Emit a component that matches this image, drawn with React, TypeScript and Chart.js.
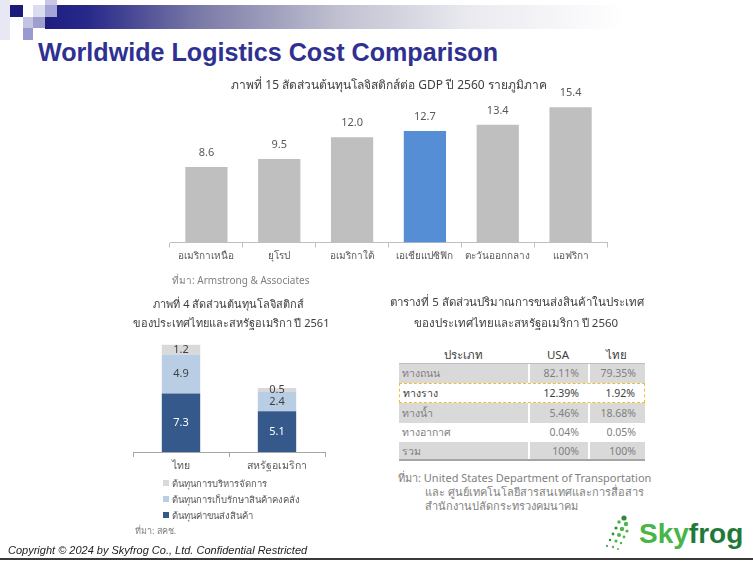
import React, { useEffect, useRef } from "react";
import { Chart, registerables } from "chart.js";

Chart.register(...registerables);

// ---------- Data ----------
const regionCategories = ["อเมริกาเหนือ", "ยุโรป", "อเมริกาใต้", "เอเชียแปซิฟิก", "ตะวันออกกลาง", "แอฟริกา"];
const regionValues = [8.6, 9.5, 12.0, 12.7, 13.4, 15.4];
const highlightedRegion = "เอเชียแปซิฟิก";

const countryCategories = ["ไทย", "สหรัฐอเมริกา"];
const transportCost = [7.3, 5.1];
const inventoryCost = [4.9, 2.4];
const adminCost = [1.2, 0.5];
const costSeriesNames = ["ต้นทุนค่าขนส่งสินค้า", "ต้นทุนการเก็บรักษาสินค้าคงคลัง", "ต้นทุนการบริหารจัดการ"];

const tableHeader = ["ประเภท", "USA", "ไทย"];
const modeRows = ["ทางถนน", "ทางราง", "ทางน้ำ", "ทางอากาศ", "รวม"];
const usaShares = ["82.11%", "12.39%", "5.46%", "0.04%", "100%"];
const thaiShares = ["79.35%", "1.92%", "18.68%", "0.05%", "100%"];
const highlightedMode = "ทางราง";

// ---------- Styles ----------
const FONT = '"Noto Sans", "DejaVu Sans", sans-serif';
const GRAY_BAR = "#bfbfbf";
const BLUE_BAR = "#558ed5";
const DARK_BLUE = "#34598a";
const LIGHT_BLUE = "#b9cde5";
const LIGHT_GRAY = "#d9d9d9";
const costColors = [DARK_BLUE, LIGHT_BLUE, LIGHT_GRAY];
const costLabelColors = ["#ffffff", "#404040", "#404040"];

const valueLabels = {
  id: "valueLabels",
  afterDatasetsDraw(chart: any, _args: any, opts: any) {
    const ctx = chart.ctx;
    chart.data.datasets.forEach((ds: any, di: number) => {
      const meta = chart.getDatasetMeta(di);
      meta.data.forEach((el: any, i: number) => {
        const v = ds.data[i];
        const p = el.getProps(["x", "y", "base"], true);
        ctx.save();
        ctx.font = `${opts.size || 11}px ${FONT}`;
        ctx.fillStyle = ds.labelColor || opts.color || "#595959";
        ctx.textAlign = "center";
        ctx.textBaseline = "middle";
        const y = opts.mode === "top" ? p.y - 14 : (p.y + p.base) / 2;
        ctx.fillText(Number(v).toFixed(1), p.x, y);
        ctx.restore();
      });
    });
  },
};

function RegionChart() {
  const ref = useRef<HTMLCanvasElement>(null);
  useEffect(() => {
    const chart = new Chart(ref.current!, {
      type: "bar",
      data: {
        labels: regionCategories,
        datasets: [
          {
            data: regionValues,
            backgroundColor: regionCategories.map((c) => (c === highlightedRegion ? BLUE_BAR : GRAY_BAR)),
            barPercentage: 0.58,
            categoryPercentage: 1,
          },
        ],
      },
      options: {
        responsive: false,
        animation: false,
        layout: { padding: { left: 20, right: 23, top: 22, bottom: 4.5 } },
        plugins: {
          legend: { display: false },
          tooltip: { enabled: false },
          valueLabels: { mode: "top", color: "#595959", size: 11 },
        } as any,
        scales: {
          y: { display: false, min: 0, max: 16 },
          x: {
            afterFit: (s: any) => {
              s.height = 25;
            },
            border: { display: true, color: "#bfbfbf" },
            grid: { drawOnChartArea: false, drawTicks: true, tickLength: 5, color: "#bfbfbf", offset: true },
            ticks: { color: "#595959", font: { size: 10, family: FONT }, padding: 3, maxRotation: 0, minRotation: 0, autoSkip: false },
          },
        },
      },
      plugins: [valueLabels],
    });
    return () => chart.destroy();
  }, []);
  return <canvas ref={ref} width={480} height={192} style={{ position: "absolute", left: 150, top: 80, width: 480, height: 192 }} />;
}

function CostChart() {
  const ref = useRef<HTMLCanvasElement>(null);
  useEffect(() => {
    const series = [transportCost, inventoryCost, adminCost];
    const chart = new Chart(ref.current!, {
      type: "bar",
      data: {
        labels: countryCategories,
        datasets: series.map((d, i) => ({
          label: costSeriesNames[i],
          data: d,
          backgroundColor: costColors[i],
          labelColor: costLabelColors[i],
          barPercentage: 0.4,
          categoryPercentage: 1,
        })) as any,
      },
      options: {
        responsive: false,
        animation: false,
        layout: { padding: { left: 20, right: 18, top: 10, bottom: 4 } },
        plugins: {
          legend: { display: false },
          tooltip: { enabled: false },
          valueLabels: { mode: "center", size: 11 },
        } as any,
        scales: {
          y: { display: false, min: 0, max: 14, stacked: true },
          x: {
            stacked: true,
            afterFit: (s: any) => {
              s.height = 24;
            },
            border: { display: true, color: "#a6a6a6" },
            grid: { drawOnChartArea: false, drawTicks: true, tickLength: 5, color: "#a6a6a6", offset: true },
            ticks: { color: "#595959", font: { size: 10.5, family: FONT }, padding: 3, maxRotation: 0, minRotation: 0, autoSkip: false },
          },
        },
      },
      plugins: [valueLabels],
    });
    return () => chart.destroy();
  }, []);
  return <canvas ref={ref} width={230} height={150} style={{ position: "absolute", left: 113, top: 330, width: 230, height: 150 }} />;
}

const abs = (l: number, t: number, extra: React.CSSProperties = {}): React.CSSProperties => ({
  position: "absolute",
  left: l,
  top: t,
  ...extra,
});

function Header() {
  return (
    <>
      <div style={abs(45, 5, { width: 708, height: 24, background: "linear-gradient(to right, #1e1e80 0%, #28288a 6%, #7b7ba8 22%, #bfbfd0 41%, #eaeaf0 60%, #ffffff 82%)" })} />
      <div style={abs(0, 0, { width: 10, height: 40, background: "#e8e8f4" })} />
      <div style={abs(10, 5, { width: 13, height: 12, background: "#1b1b7a" })} />
      <div style={abs(33, 5, { width: 12, height: 12, background: "#dcdcef" })} />
      <div style={abs(45, 0, { width: 12, height: 5, background: "#c8c8e6" })} />
      <div style={abs(45, 5, { width: 12, height: 12, background: "#a6a6d6" })} />
      <div style={abs(23, 17, { width: 10, height: 11, background: "#c4c4e2" })} />
      <div style={abs(33, 17, { width: 12, height: 11, background: "#9f9fcf" })} />
      <div style={abs(23, 28, { width: 10, height: 12, background: "#9a9ace" })} />
      <div
        style={abs(38, 37, {
          fontFamily: '"Liberation Sans", Arial, sans-serif',
          fontWeight: 700,
          fontSize: 26,
          color: "#2e3192",
          whiteSpace: "nowrap",
          transformOrigin: "left top",
          transform: "scaleX(0.966)",
          lineHeight: "30px",
        })}
      >
        Worldwide Logistics Cost Comparison
      </div>
    </>
  );
}

function CenterText({ cx, cy, size, color, children }: any) {
  return (
    <div style={abs(cx - 200, cy - 10, { width: 400, height: 20, lineHeight: "20px", textAlign: "center", fontSize: size, color, fontFamily: FONT, whiteSpace: "nowrap" })}>
      {children}
    </div>
  );
}

function LeftText({ x, cy, size, color, children, style }: any) {
  return (
    <div style={abs(x, cy - 10, { height: 20, lineHeight: "20px", fontSize: size, color, fontFamily: FONT, whiteSpace: "nowrap", ...style })}>{children}</div>
  );
}

function CostLegend() {
  const order = [2, 1, 0];
  return (
    <>
      {order.map((si, k) => (
        <div key={si} style={abs(163, 483 + k * 16 - 8, { height: 16, display: "flex", alignItems: "center", fontFamily: FONT, fontSize: 9.5, color: "#595959", whiteSpace: "nowrap" })}>
          <span style={{ display: "inline-block", width: 6, height: 6, background: costColors[si], marginRight: 3 }} />
          {costSeriesNames[si]}
        </div>
      ))}
    </>
  );
}

function ModeTable() {
  const colW = [129, 60, 57];
  const rowH = [19, 20, 20, 19, 19];
  return (
    <div style={abs(399, 346, { width: 246, fontFamily: FONT })}>
      <div style={{ display: "flex", height: 17, borderBottom: "1px solid #bfbfbf", color: "#404040", fontSize: 11.5 }}>
        {tableHeader.map((h, i) => (
          <div key={h} style={{ width: colW[i], textAlign: "center", lineHeight: "17px" }}>
            {h}
          </div>
        ))}
      </div>
      {modeRows.map((m, r) => {
        const shaded = r % 2 === 0;
        const hi = m === highlightedMode;
        const cells = [m, usaShares[r], thaiShares[r]];
        return (
          <div
            key={m}
            style={{
              display: "flex",
              height: rowH[r],
              boxSizing: "border-box",
              background: shaded ? "#d9d9d9" : "#ffffff",
              border: hi ? "1px dashed #f0c02a" : "none",
              borderBottom: hi ? "1px dashed #f0c02a" : r === modeRows.length - 1 ? "2px solid #a6a6a6" : "none",
              color: hi ? "#404040" : "#808080",
              fontSize: 10.5,
            }}
          >
            {cells.map((c, i) => (
              <div
                key={i}
                style={{
                  width: colW[i] - (hi && i === 0 ? 1 : 0) - (hi && i === 2 ? 1 : 0),
                  textAlign: i === 0 ? "left" : "right",
                  paddingLeft: i === 0 ? 3 : 0,
                  paddingRight: i === 0 ? 0 : 9,
                  boxSizing: "border-box",
                  lineHeight: `${rowH[r] - (hi ? 2 : 0)}px`,
                  borderLeft: i > 0 && shaded ? "2px solid #ffffff" : "none",
                }}
              >
                {c}
              </div>
            ))}
          </div>
        );
      })}
    </div>
  );
}

function Logo() {
  const dots = [
    [624, 518, 2.6], [619, 522, 1.8], [626, 524, 2.2], [616, 528, 1.6], [622, 529, 2.2], [627, 531, 1.6],
    [613, 534, 1.4], [619, 535, 2], [624, 537, 1.4], [610, 540, 1.2], [616, 541, 1.6], [621, 543, 1.2],
    [607, 546, 1], [613, 547, 1.2], [618, 549, 1],
  ];
  return (
    <>
      <svg style={abs(600, 512, { width: 36, height: 42 })} width={36} height={42}>
        {dots.map(([x, y, r], i) => (
          <circle key={i} cx={x - 600} cy={y - 512} r={r} fill={i % 3 === 0 ? "#2e8b3e" : "#4cb748"} />
        ))}
      </svg>
      <div style={abs(639, 518, { fontFamily: '"Liberation Sans", Arial, sans-serif', fontWeight: 700, fontSize: 28, lineHeight: "32px", whiteSpace: "nowrap" })}>
        <span style={{ color: "#47b548" }}>Sky</span>
        <span style={{ color: "#1f7a3a" }}>frog</span>
      </div>
    </>
  );
}

export default function App() {
  return (
    <div style={{ position: "absolute", left: 0, top: 0, width: 753, height: 563, background: "#ffffff", overflow: "hidden" }}>
      <Header />
      <RegionChart />
      <CenterText cx={389} cy={85} size={12} color="#404040">
        ภาพที่ 15 สัดส่วนต้นทุนโลจิสติกส์ต่อ GDP ปี 2560 รายภูมิภาค
      </CenterText>
      <LeftText x={172} cy={280} size={10} color="#7f7f7f">
        ที่มา: Armstrong &amp; Associates
      </LeftText>

      <CenterText cx={229} cy={304} size={11} color="#404040">
        ภาพที่ 4 สัดส่วนต้นทุนโลจิสติกส์
      </CenterText>
      <CenterText cx={231} cy={323} size={11} color="#404040">
        ของประเทศไทยและสหรัฐอเมริกา ปี 2561
      </CenterText>
      <CostChart />
      <CostLegend />
      <LeftText x={135} cy={531} size={9} color="#7f7f7f">
        ที่มา: สคช.
      </LeftText>

      <CenterText cx={517} cy={302} size={11.5} color="#404040">
        ตารางที่ 5 สัดส่วนปริมาณการขนส่งสินค้าในประเทศ
      </CenterText>
      <CenterText cx={516} cy={323} size={11.5} color="#404040">
        ของประเทศไทยและสหรัฐอเมริกา ปี 2560
      </CenterText>
      <ModeTable />
      <LeftText x={398} cy={478} size={11} color="#7f7f7f">
        ที่มา: United States Department of Transportation
      </LeftText>
      <LeftText x={425} cy={492} size={11} color="#7f7f7f">
        และ ศูนย์เทคโนโลยีสารสนเทศและการสื่อสาร
      </LeftText>
      <LeftText x={425} cy={506} size={11} color="#7f7f7f">
        สำนักงานปลัดกระทรวงคมนาคม
      </LeftText>

      <Logo />
      <LeftText x={8} cy={550} size={11} color="#222222" style={{ fontFamily: '"Liberation Sans", Arial, sans-serif', fontStyle: "italic" }}>
        Copyright © 2024 by Skyfrog Co., Ltd. Confidential Restricted
      </LeftText>
      <div style={abs(0, 558, { width: 753, height: 2, background: "#3a3a3a" })} />
    </div>
  );
}
